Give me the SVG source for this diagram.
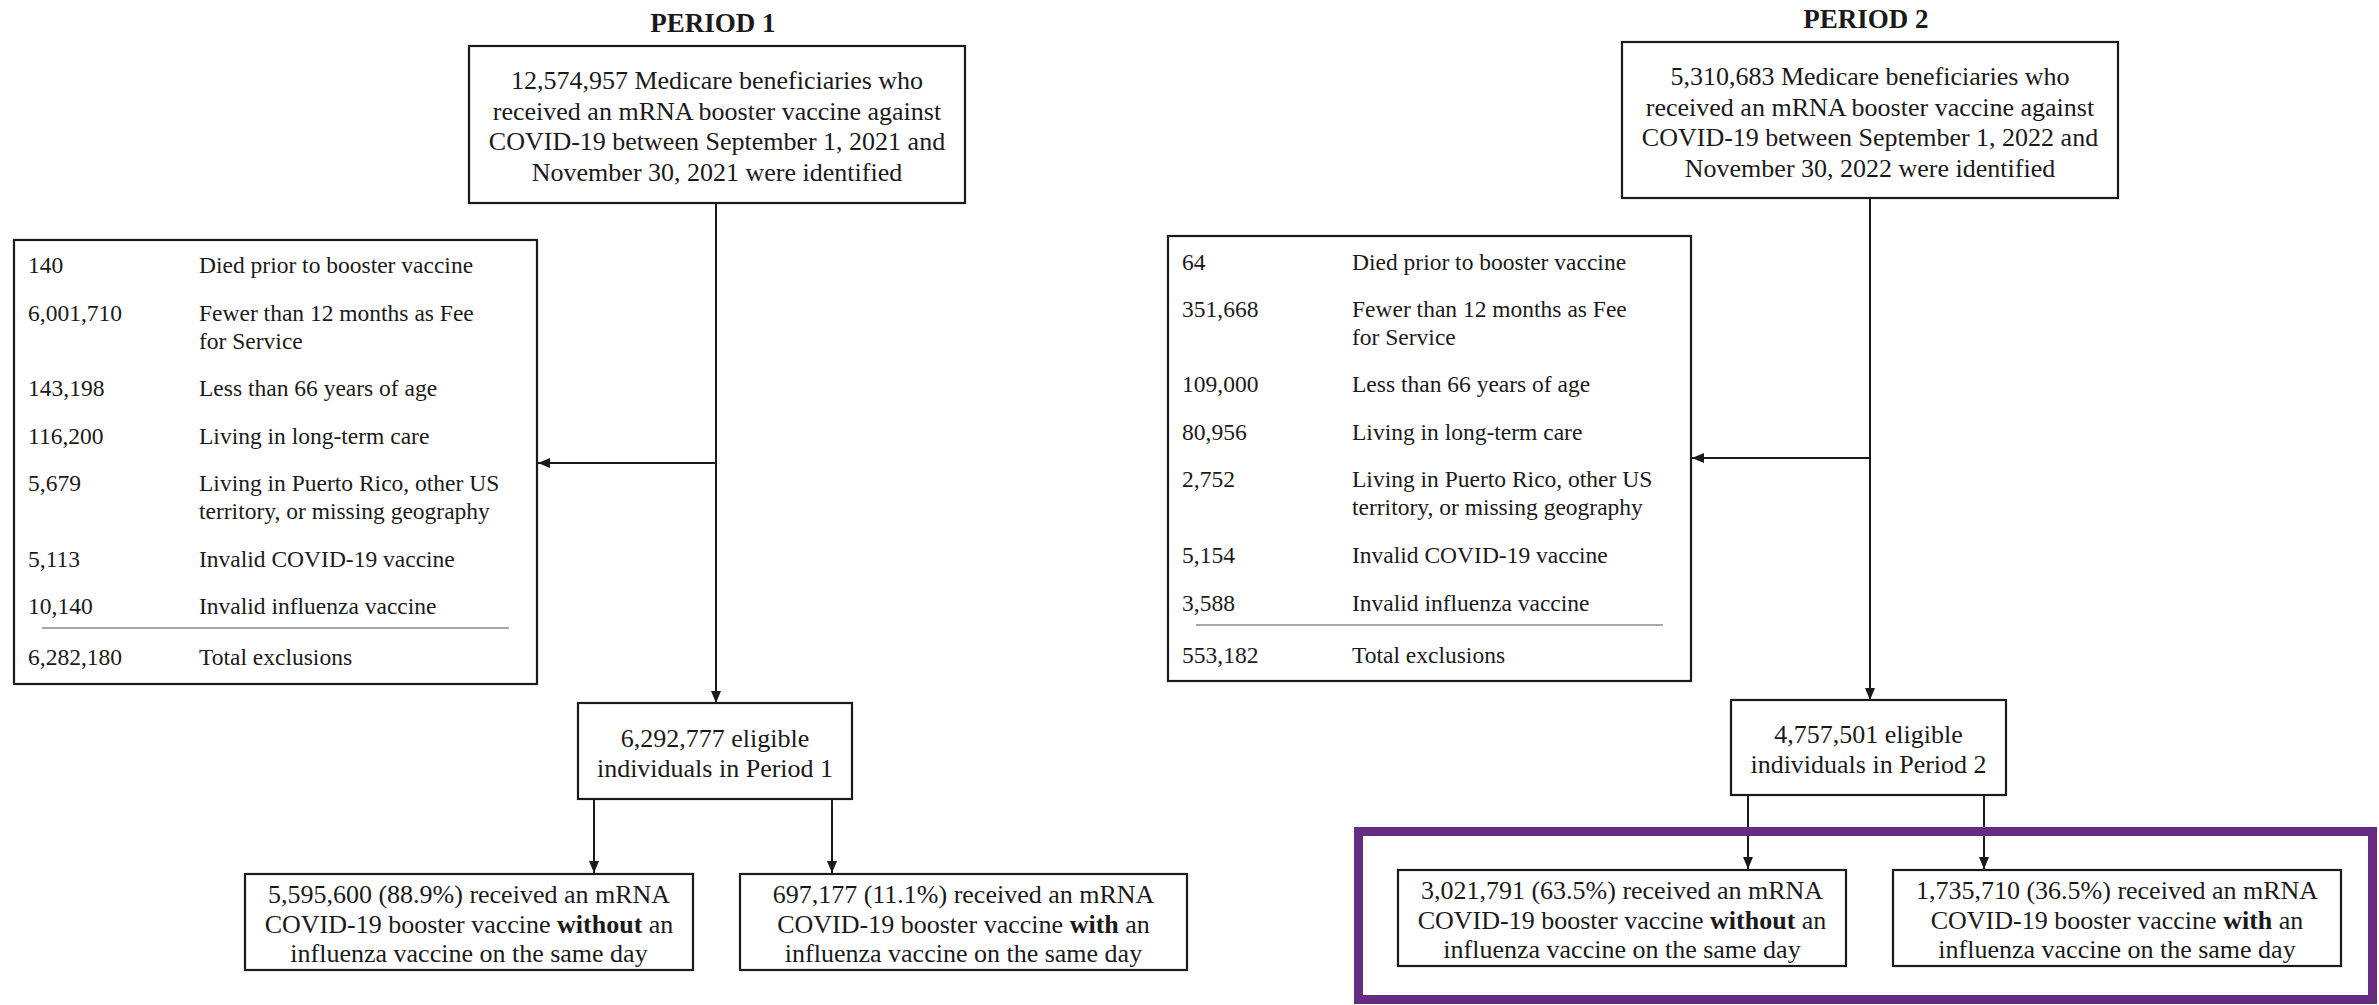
<svg xmlns="http://www.w3.org/2000/svg" width="2379" height="1005" viewBox="0 0 2379 1005">
<style>
  text { font-family: "Liberation Serif", "Times New Roman", serif; fill: #1a1a1a; }
  .title { font-size: 27px; font-weight: bold; text-anchor: middle; }
  .c { font-size: 26px; text-anchor: middle; }
  .ex { font-size: 23.5px; }
  .box { fill: #ffffff; stroke: #1a1a1a; stroke-width: 2.2; }
  .sep { stroke: #8a8a8a; stroke-width: 1.6; fill: none; }
  .conn { stroke: #1a1a1a; stroke-width: 2; fill: none; marker-end: url(#arrow); }
  .plain { stroke: #1a1a1a; stroke-width: 2; fill: none; }
  .hl { fill: none; stroke: #652c80; stroke-width: 9; }
  .b { font-weight: bold; }
</style>
<defs>
  <marker id="arrow" viewBox="0 0 12 10" refX="12" refY="5" markerWidth="12" markerHeight="10" markerUnits="userSpaceOnUse" orient="auto">
    <path d="M0,0 L12,5 L0,10 z" fill="#1a1a1a"/>
  </marker>
</defs>
<rect x="0" y="0" width="2379" height="1005" fill="#ffffff"/>

<text class="title" x="713" y="32">PERIOD 1</text>
<text class="title" x="1866" y="28">PERIOD 2</text>

<g id="connectors">
  <line class="conn" x1="716" y1="203" x2="716" y2="703"/>
  <line class="conn" x1="716" y1="463" x2="538" y2="463"/>
  <line class="conn" x1="594" y1="799" x2="594" y2="873"/>
  <line class="conn" x1="832" y1="799" x2="832" y2="873"/>
  <line class="conn" x1="1870" y1="198" x2="1870" y2="700"/>
  <line class="conn" x1="1870" y1="458" x2="1692" y2="458"/>
  <line class="conn" x1="1748" y1="795" x2="1748" y2="869"/>
  <line class="conn" x1="1984" y1="795" x2="1984" y2="869"/>
</g>

<g id="p1-start">
  <rect class="box" x="469" y="46" width="496" height="157"/>
  <text class="c" x="717" y="89">12,574,957 Medicare beneficiaries who</text>
  <text class="c" x="717" y="119.5">received an mRNA booster vaccine against</text>
  <text class="c" x="717" y="150">COVID-19 between September 1, 2021 and</text>
  <text class="c" x="717" y="180.5">November 30, 2021 were identified</text>
</g>

<g id="p1-exclusions">
  <rect class="box" x="14" y="240" width="523" height="444"/>
  <text class="ex" x="28" y="273">140</text><text class="ex" x="199" y="273">Died prior to booster vaccine</text>
  <text class="ex" x="28" y="321">6,001,710</text><text class="ex" x="199" y="321">Fewer than 12 months as Fee</text>
  <text class="ex" x="199" y="349">for Service</text>
  <text class="ex" x="28" y="396">143,198</text><text class="ex" x="199" y="396">Less than 66 years of age</text>
  <text class="ex" x="28" y="444">116,200</text><text class="ex" x="199" y="444">Living in long-term care</text>
  <text class="ex" x="28" y="491">5,679</text><text class="ex" x="199" y="491">Living in Puerto Rico, other US</text>
  <text class="ex" x="199" y="519">territory, or missing geography</text>
  <text class="ex" x="28" y="567">5,113</text><text class="ex" x="199" y="567">Invalid COVID-19 vaccine</text>
  <text class="ex" x="28" y="614">10,140</text><text class="ex" x="199" y="614">Invalid influenza vaccine</text>
  <line class="sep" x1="42" y1="628" x2="509" y2="628"/>
  <text class="ex" x="28" y="665">6,282,180</text><text class="ex" x="199" y="665">Total exclusions</text>
</g>

<g id="p1-eligible">
  <rect class="box" x="578" y="703" width="274" height="96"/>
  <text class="c" x="715" y="747">6,292,777 eligible</text>
  <text class="c" x="715" y="777">individuals in Period 1</text>
</g>

<g id="p1-without">
  <rect class="box" x="245" y="874" width="448" height="96"/>
  <text class="c" x="469" y="903">5,595,600 (88.9%) received an mRNA</text>
  <text class="c" x="469" y="932.5">COVID-19 booster vaccine <tspan class="b">without</tspan> an</text>
  <text class="c" x="469" y="962">influenza vaccine on the same day</text>
</g>

<g id="p1-with">
  <rect class="box" x="740" y="874" width="447" height="96"/>
  <text class="c" x="963.5" y="903">697,177 (11.1%) received an mRNA</text>
  <text class="c" x="963.5" y="932.5">COVID-19 booster vaccine <tspan class="b">with</tspan> an</text>
  <text class="c" x="963.5" y="962">influenza vaccine on the same day</text>
</g>

<g id="p2-start">
  <rect class="box" x="1622" y="42" width="496" height="156"/>
  <text class="c" x="1870" y="85">5,310,683 Medicare beneficiaries who</text>
  <text class="c" x="1870" y="115.5">received an mRNA booster vaccine against</text>
  <text class="c" x="1870" y="146">COVID-19 between September 1, 2022 and</text>
  <text class="c" x="1870" y="176.5">November 30, 2022 were identified</text>
</g>

<g id="p2-exclusions">
  <rect class="box" x="1168" y="236" width="523" height="445"/>
  <text class="ex" x="1182" y="270">64</text><text class="ex" x="1352" y="270">Died prior to booster vaccine</text>
  <text class="ex" x="1182" y="317">351,668</text><text class="ex" x="1352" y="317">Fewer than 12 months as Fee</text>
  <text class="ex" x="1352" y="345">for Service</text>
  <text class="ex" x="1182" y="392">109,000</text><text class="ex" x="1352" y="392">Less than 66 years of age</text>
  <text class="ex" x="1182" y="440">80,956</text><text class="ex" x="1352" y="440">Living in long-term care</text>
  <text class="ex" x="1182" y="487">2,752</text><text class="ex" x="1352" y="487">Living in Puerto Rico, other US</text>
  <text class="ex" x="1352" y="515">territory, or missing geography</text>
  <text class="ex" x="1182" y="563">5,154</text><text class="ex" x="1352" y="563">Invalid COVID-19 vaccine</text>
  <text class="ex" x="1182" y="611">3,588</text><text class="ex" x="1352" y="611">Invalid influenza vaccine</text>
  <line class="sep" x1="1196" y1="625" x2="1663" y2="625"/>
  <text class="ex" x="1182" y="663">553,182</text><text class="ex" x="1352" y="663">Total exclusions</text>
</g>

<g id="p2-eligible">
  <rect class="box" x="1731" y="700" width="275" height="95"/>
  <text class="c" x="1868.5" y="743">4,757,501 eligible</text>
  <text class="c" x="1868.5" y="773">individuals in Period 2</text>
</g>

<g id="p2-without">
  <rect class="box" x="1398" y="870" width="448" height="96"/>
  <text class="c" x="1622" y="898.5">3,021,791 (63.5%) received an mRNA</text>
  <text class="c" x="1622" y="928.5">COVID-19 booster vaccine <tspan class="b">without</tspan> an</text>
  <text class="c" x="1622" y="958">influenza vaccine on the same day</text>
</g>

<g id="p2-with">
  <rect class="box" x="1893" y="870" width="448" height="96"/>
  <text class="c" x="2117" y="898.5">1,735,710 (36.5%) received an mRNA</text>
  <text class="c" x="2117" y="928.5">COVID-19 booster vaccine <tspan class="b">with</tspan> an</text>
  <text class="c" x="2117" y="958">influenza vaccine on the same day</text>
</g>

<g id="highlight">
  <rect class="hl" x="1358.5" y="831.5" width="1014" height="168"/>
</g>
</svg>
